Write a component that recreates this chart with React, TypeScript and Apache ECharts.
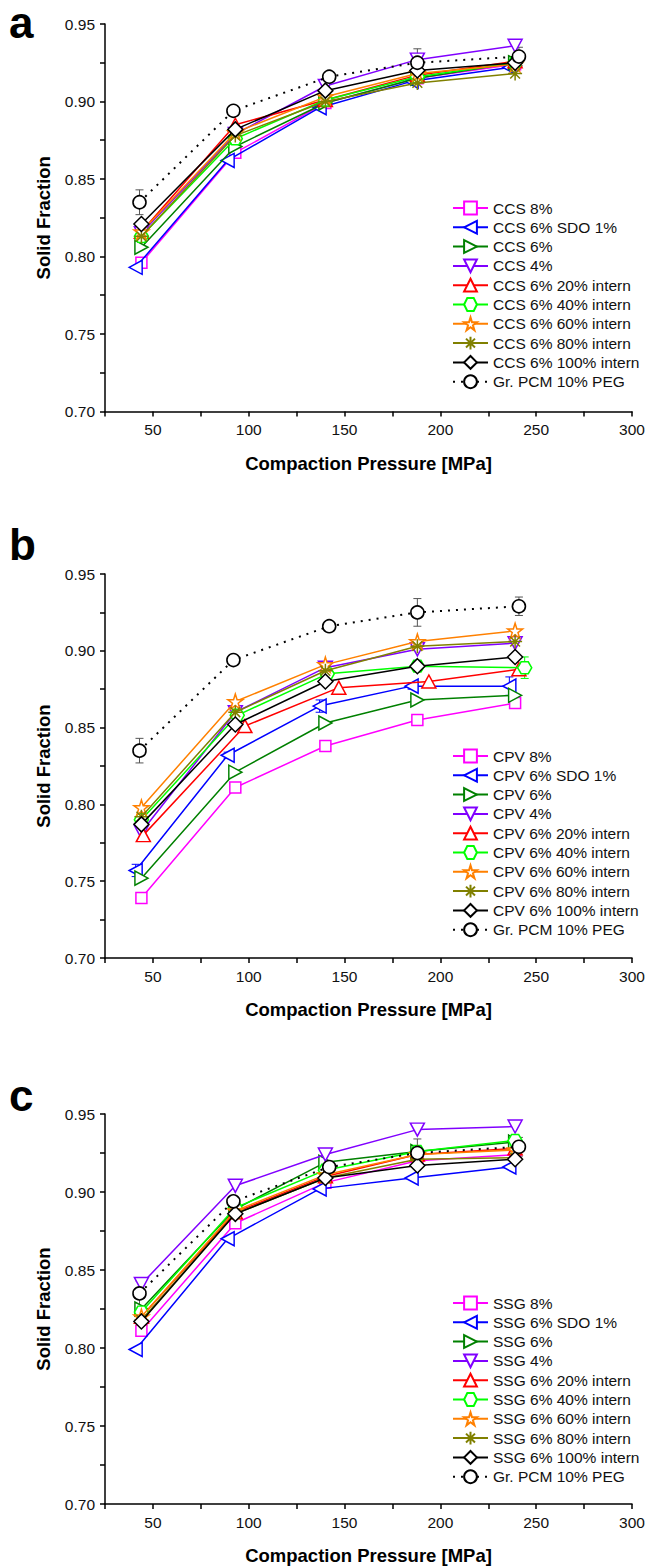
import React, { useEffect, useRef } from 'react';
import * as echarts from 'echarts';

const FONT = '"Liberation Sans", Arial, Helvetica, sans-serif';

// ---- axis ticks ----
const xTickLabels = [50, 100, 150, 200, 250, 300];
const yTickLabels = ['0.70', '0.75', '0.80', '0.85', '0.90', '0.95'];

// ---- compaction pressures (MPa) ----
const pressure = [44, 93, 140, 188, 239];
const sdoPressure = [41, 89, 137, 185, 236];
const pcmPressure = [43, 92, 142, 188, 241];
const cpv20Pressure = [45, 98, 147, 194, 241];
const cpv40Pressure = [44, 94, 141, 188, 244];

// ---- reference: Gr. PCM 10% PEG ----
const pcmSF = [0.835, 0.894, 0.916, 0.925, 0.929];
const pcmErr = [0.008, 0.002, 0.002, 0.009, 0.006];

// ---- panel a: CCS ----
const ccs8 = [0.796, 0.867, 0.899, 0.915, 0.924];
const ccsSdo = [0.793, 0.862, 0.896, 0.913, 0.922];
const ccs6 = [0.806, 0.871, 0.899, 0.915, 0.925];
const ccs4 = [0.815, 0.879, 0.910, 0.927, 0.936];
const ccs20 = [0.816, 0.885, 0.901, 0.917, 0.926];
const ccs40 = [0.813, 0.876, 0.901, 0.916, 0.925];
const ccs60 = [0.816, 0.880, 0.903, 0.918, 0.924];
const ccs80 = [0.813, 0.878, 0.900, 0.912, 0.918];
const ccs100 = [0.821, 0.882, 0.907, 0.920, 0.925];

// ---- panel b: CPV ----
const cpv8 = [0.739, 0.811, 0.838, 0.855, 0.866];
const cpvSdo = [0.757, 0.832, 0.864, 0.877, 0.877];
const cpv6 = [0.752, 0.821, 0.853, 0.868, 0.871];
const cpv4 = [0.782, 0.860, 0.889, 0.901, 0.905];
const cpv20 = [0.780, 0.851, 0.876, 0.880, 0.888];
const cpv40 = [0.790, 0.858, 0.885, 0.890, 0.889];
const cpv60 = [0.798, 0.867, 0.891, 0.906, 0.913];
const cpv80 = [0.792, 0.860, 0.887, 0.903, 0.906];
const cpv100 = [0.787, 0.852, 0.880, 0.890, 0.896];
const cpvSdoErr = [0.004, 0.002, 0.004, 0.002, 0.006];
const cpv40Err = [0, 0, 0, 0.002, 0.007];

// ---- panel c: SSG ----
const ssg8 = [0.811, 0.880, 0.906, 0.920, 0.924];
const ssgSdo = [0.799, 0.870, 0.902, 0.909, 0.916];
const ssg6 = [0.825, 0.889, 0.919, 0.926, 0.932];
const ssg4 = [0.841, 0.904, 0.924, 0.940, 0.942];
const ssg20 = [0.820, 0.887, 0.910, 0.924, 0.928];
const ssg40 = [0.823, 0.890, 0.914, 0.926, 0.933];
const ssg60 = [0.820, 0.888, 0.911, 0.924, 0.927];
const ssg80 = [0.818, 0.886, 0.909, 0.921, 0.922];
const ssg100 = [0.817, 0.886, 0.909, 0.917, 0.921];

const suffixes = ['8%', '6% SDO 1%', '6%', '4%', '6% 20% intern', '6% 40% intern', '6% 60% intern', '6% 80% intern', '6% 100% intern'];
const pcmName = 'Gr. PCM 10% PEG';

// ---- styles ----
const LEFT = 'path://M0,5 L9,0 L9,10 Z';
const RIGHT = 'path://M9,5 L0,0 L0,10 Z';
const DOWN = 'path://M0,0 L10,0 L5,9 Z';
const UP = 'path://M5,0 L10,9 L0,9 Z';
const HEX = 'path://M2.5,0 L7.5,0 L10,4.33 L7.5,8.66 L2.5,8.66 L0,4.33 Z';
const STAR = 'path://M10,0 L12.245,6.91 L19.51,6.91 L13.63,11.18 L15.88,18.09 L10,13.82 L4.12,18.09 L6.37,11.18 L0.49,6.91 L7.755,6.91 Z';
const AST = 'path://M5,0 L5,10 M0,5 L10,5 M1.5,1.5 L8.5,8.5 M1.5,8.5 L8.5,1.5';

const styles = [
  { color: '#ff00ff', symbol: 'rect', size: 11 },
  { color: '#0000ff', symbol: LEFT, size: [13, 14] },
  { color: '#008000', symbol: RIGHT, size: [13, 14] },
  { color: '#8000ff', symbol: DOWN, size: [14, 13] },
  { color: '#ff0000', symbol: UP, size: [14, 13] },
  { color: '#00ff00', symbol: HEX, size: [14, 12] },
  { color: '#ff8000', symbol: STAR, size: 15 },
  { color: '#808000', symbol: AST, size: 14 },
  { color: '#000000', symbol: 'diamond', size: 15 },
];

const panels = [
  {
    letter: 'a', prefix: 'CCS',
    values: [ccs8, ccsSdo, ccs6, ccs4, ccs20, ccs40, ccs60, ccs80, ccs100],
    xs: [pressure, sdoPressure, pressure, pressure, pressure, pressure, pressure, pressure, pressure],
    errs: [] as { idx: number; err: number[] }[],
  },
  {
    letter: 'b', prefix: 'CPV',
    values: [cpv8, cpvSdo, cpv6, cpv4, cpv20, cpv40, cpv60, cpv80, cpv100],
    xs: [pressure, sdoPressure, pressure, pressure, cpv20Pressure, cpv40Pressure, pressure, pressure, pressure],
    errs: [{ idx: 1, err: cpvSdoErr }, { idx: 5, err: cpv40Err }],
  },
  {
    letter: 'c', prefix: 'SSG',
    values: [ssg8, ssgSdo, ssg6, ssg4, ssg20, ssg40, ssg60, ssg80, ssg100],
    xs: [pressure, sdoPressure, pressure, pressure, pressure, pressure, pressure, pressure, pressure],
    errs: [] as { idx: number; err: number[] }[],
  },
];

const layout = [
  { top: 24, height: 387.5, legendTop: 200, letterY: 2 },
  { top: 574, height: 384, legendTop: 748, letterY: 524 },
  { top: 1114, height: 391, legendTop: 1295, letterY: 1075 },
];

function errorSeries(gi: number, xs: number[], ys: number[], err: number[], color: string) {
  return {
    type: 'custom',
    xAxisIndex: gi,
    yAxisIndex: gi,
    silent: true,
    z: 1,
    data: xs.map((x, j) => [x, ys[j] - err[j], ys[j] + err[j]]).filter((d, j) => err[j] > 0),
    encode: { x: 0, y: [1, 2] },
    renderItem: (params: any, api: any) => {
      const x = api.value(0);
      const lo = api.coord([x, api.value(1)]);
      const hi = api.coord([x, api.value(2)]);
      const w = 4;
      const st = { stroke: color, lineWidth: 1 };
      return {
        type: 'group',
        children: [
          { type: 'line', shape: { x1: lo[0], y1: lo[1], x2: hi[0], y2: hi[1] }, style: st },
          { type: 'line', shape: { x1: lo[0] - w, y1: lo[1], x2: lo[0] + w, y2: lo[1] }, style: st },
          { type: 'line', shape: { x1: hi[0] - w, y1: hi[1], x2: hi[0] + w, y2: hi[1] }, style: st },
        ],
      };
    },
  };
}

export default function App() {
  const ref = useRef<HTMLDivElement>(null);
  useEffect(() => {
    document.body.style.margin = '0';
    if (!ref.current) return;
    const chart = echarts.init(ref.current, null, { renderer: 'svg' });

    const grids: any[] = [];
    const xAxes: any[] = [];
    const yAxes: any[] = [];
    const legends: any[] = [];
    const series: any[] = [];
    const graphics: any[] = [];

    panels.forEach((p, gi) => {
      const L = layout[gi];
      grids.push({ left: 105, top: L.top, width: 527, height: L.height });
      xAxes.push({
        gridIndex: gi, type: 'value', min: 25, max: 300, interval: 25,
        axisLine: { show: true, onZero: false, lineStyle: { color: '#000', width: 1.5 } },
        axisTick: { show: true, inside: false, length: 5, lineStyle: { color: '#000', width: 1.5 } },
        axisLabel: {
          fontSize: 15.5, color: '#111', fontFamily: FONT, margin: 10,
          formatter: (v: number) => (xTickLabels.includes(Math.round(v)) ? String(Math.round(v)) : ''),
        },
        splitLine: { show: false },
        name: 'Compaction Pressure [MPa]', nameLocation: 'middle', nameGap: 42,
        nameTextStyle: { fontWeight: 'bold', fontSize: 18.5, color: '#000', fontFamily: FONT },
      });
      yAxes.push({
        gridIndex: gi, type: 'value', min: 0.7, max: 0.95, interval: 0.025,
        axisLine: { show: true, onZero: false, lineStyle: { color: '#000', width: 1.5 } },
        axisTick: { show: true, inside: false, length: 5, lineStyle: { color: '#000', width: 1.5 } },
        axisLabel: {
          fontSize: 15.5, color: '#111', fontFamily: FONT, margin: 10,
          formatter: (v: number) => {
            const s = v.toFixed(2);
            return yTickLabels.includes(s) && Math.round(v * 40) % 2 === 0 ? s : '';
          },
        },
        splitLine: { show: false },
        name: 'Solid Fraction', nameLocation: 'middle', nameGap: 52, nameRotate: 90,
        nameTextStyle: { fontWeight: 'bold', fontSize: 18.5, color: '#000', fontFamily: FONT },
      });

      const names: string[] = [];
      p.values.forEach((ys, k) => {
        const st = styles[k];
        const name = p.prefix + ' ' + suffixes[k];
        names.push(name);
        series.push({
          type: 'line', name, xAxisIndex: gi, yAxisIndex: gi,
          data: p.xs[k].map((x, j) => [x, ys[j]]),
          symbol: st.symbol, symbolSize: st.size, symbolKeepAspect: false,
          color: st.color,
          lineStyle: { color: st.color, width: 1.5 },
          itemStyle: { color: '#fff', borderColor: st.color, borderWidth: 1.5 },
          emphasis: { disabled: true }, silent: true, z: 2 + k * 0.01,
        });
      });
      p.errs.forEach((e) => {
        series.push(errorSeries(gi, p.xs[e.idx], p.values[e.idx], e.err, styles[e.idx].color));
      });
      names.push(pcmName);
      series.push({
        type: 'line', name: pcmName, xAxisIndex: gi, yAxisIndex: gi,
        data: pcmPressure.map((x, j) => [x, pcmSF[j]]),
        symbol: 'circle', symbolSize: 13,
        color: '#000',
        lineStyle: { color: '#000', width: 2, type: [2, 6] },
        itemStyle: { color: '#fff', borderColor: '#000', borderWidth: 1.6 },
        emphasis: { disabled: true }, silent: true, z: 3,
      });
      series.push(errorSeries(gi, pcmPressure, pcmSF, pcmErr, '#555'));

      legends.push({
        data: names, orient: 'vertical', left: 452, top: L.legendTop, padding: 0,
        itemWidth: 35, itemHeight: 16, itemGap: 3.3, selectedMode: false,
        textStyle: { fontSize: 15.5, color: '#111', fontFamily: FONT, padding: [0, 0, 0, 0] },
      });

      graphics.push({
        type: 'text', x: 9, y: L.letterY,
        style: { text: p.letter, font: 'bold 44px ' + FONT, fill: '#000', verticalAlign: 'top', lineHeight: 40 },
      });
    });

    chart.setOption({
      animation: false,
      backgroundColor: '#fff',
      grid: grids,
      xAxis: xAxes,
      yAxis: yAxes,
      legend: legends,
      series,
      graphic: graphics,
    });
    return () => chart.dispose();
  }, []);
  return <div ref={ref} style={{ width: 648, height: 1566 }} />;
}
